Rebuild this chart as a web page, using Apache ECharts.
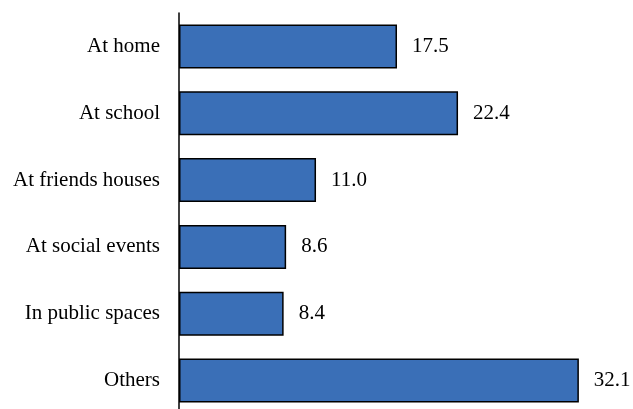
<!DOCTYPE html>
<html>
<head>
<meta charset="utf-8">
<script src="https://cdn.jsdelivr.net/npm/echarts@6/dist/echarts.min.js"></script>
<style>
html,body{margin:0;padding:0;background:#fff;}
#c{width:633px;height:409px;}
</style>
</head>
<body>
<div id="c"></div>
<script>
const categories = ["At home", "At school", "At friends houses", "At social events", "In public spaces", "Others"];
const values = [17.5, 22.4, 11.0, 8.6, 8.4, 32.1];

const chart = echarts.init(document.getElementById('c'), null, {renderer: 'canvas'});
chart.setOption({
  animation: false,
  backgroundColor: '#ffffff',
  grid: {left: 179, width: 436, top: 13, height: 401, containLabel: false, outerBoundsMode: 'none'},
  xAxis: {
    type: 'value', min: 0, max: 35, show: false
  },
  yAxis: {
    type: 'category',
    data: categories,
    inverse: true,
    axisLine: {show: true, lineStyle: {color: '#000', width: 1.5}},
    axisTick: {show: false},
    axisLabel: {
      color: '#000', fontFamily: 'Liberation Serif, Times New Roman, serif',
      fontSize: 21, margin: 19
    }
  },
  series: [{
    type: 'bar',
    data: values,
    barWidth: 44,
    itemStyle: {color: '#3a6fb7', borderColor: '#000', borderWidth: 1.5},
    label: {
      show: true, position: 'right', distance: 15,
      color: '#000', fontFamily: 'Liberation Serif, Times New Roman, serif',
      fontSize: 21,
      formatter: p => p.value.toFixed(1)
    }
  }]
});
</script>
</body>
</html>
